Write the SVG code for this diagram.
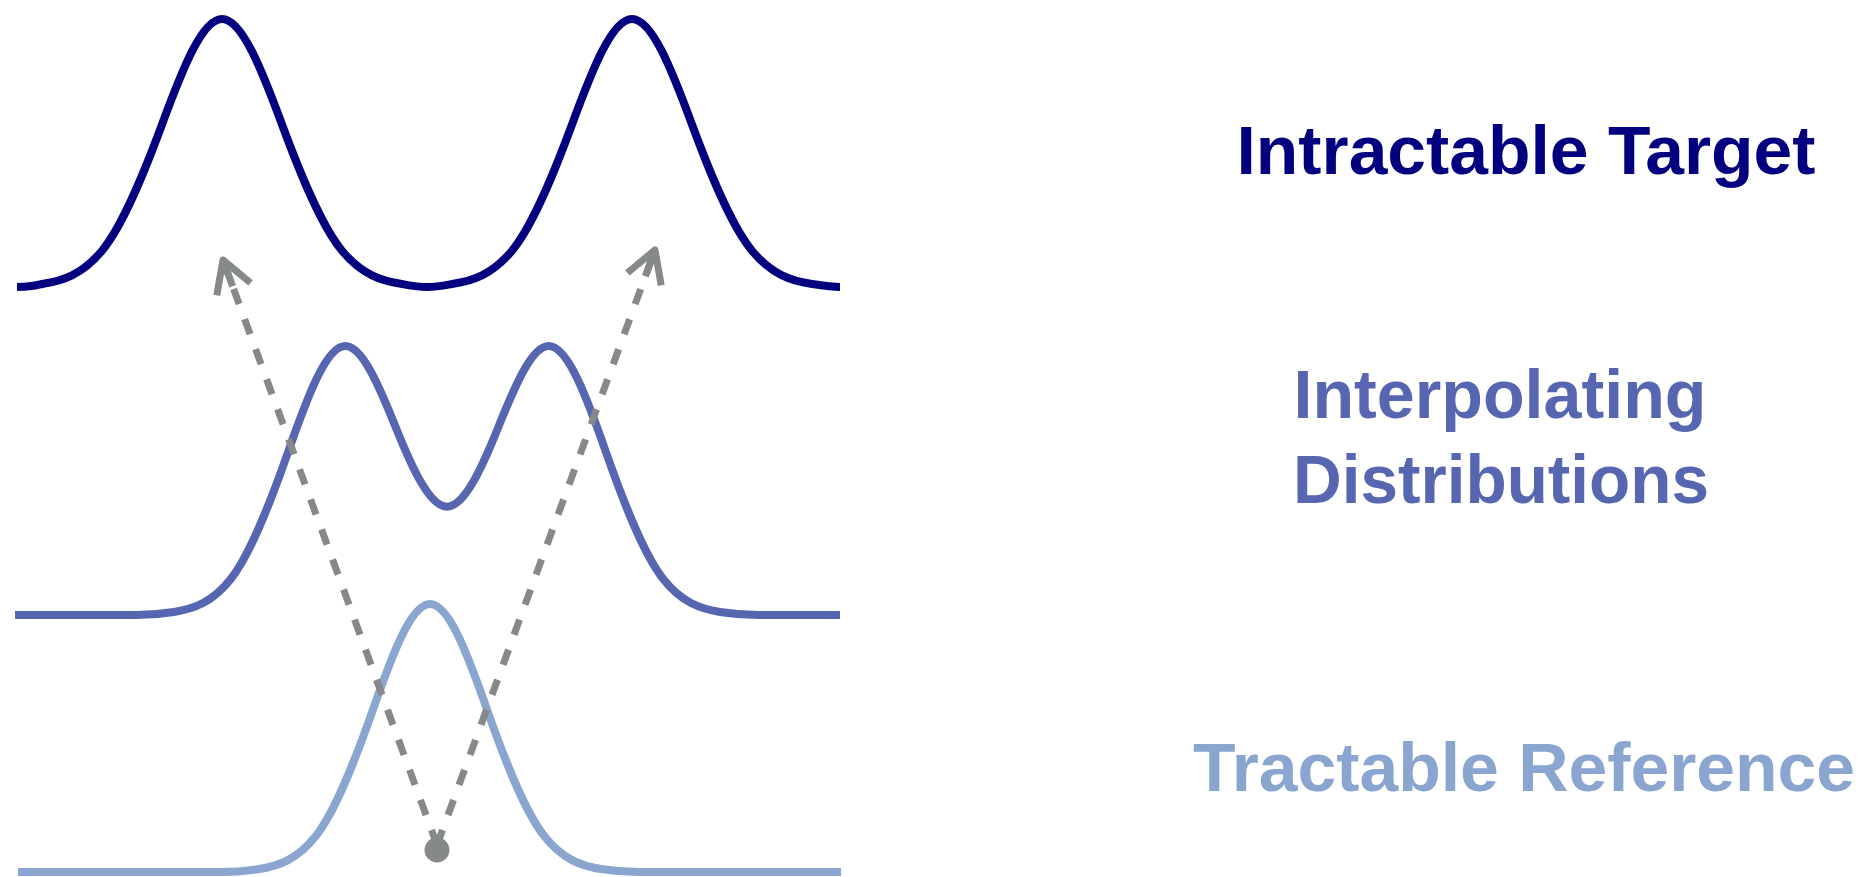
<svg xmlns="http://www.w3.org/2000/svg" width="1865" height="877" viewBox="0 0 1865 877">
<style>
.curve{fill:none;stroke-width:8;stroke-linecap:butt;stroke-linejoin:round}
.target{stroke:#03007F}
.interp{stroke:#5666B0}
.ref{stroke:#8AA5CF}
.lbl{font-family:"Liberation Sans",Arial,Helvetica,sans-serif;font-weight:bold;font-size:68px;text-anchor:middle}
.conn{fill:none;stroke:#868989;stroke-width:7;stroke-dasharray:16 16}
</style>
<defs>
<marker id="ah" markerUnits="userSpaceOnUse" orient="auto" overflow="visible" markerWidth="1" markerHeight="1" refX="0" refY="0">
<path d="M-31,-18 L0,0 L-31,18 M0,0 L-28,0" fill="none" stroke="#868989" stroke-width="7" stroke-linejoin="round"/>
</marker>
</defs>
<rect width="1865" height="877" fill="#ffffff"/>
<g id="target">
<path class="curve target" d="M17,287 C32,287 36,285.5 42,284 C62,281.1 82,274.9 102,250.7 C122,226.6 142,178.6 162,124.5 C182,70.3 202,19 222,19 C242,19 262,70.3 282,124.5 C302,178.6 322,226.6 342,250.7 C362,274.9 382,281.1 402,284 C412,285.8 418,287 427,287 C436,287 442,285.8 452,284 C472,281.1 492,274.9 512,250.7 C532,226.6 552,178.6 572,124.5 C592,70.3 612,19 632,19 C652,19 672,70.3 692,124.5 C712,178.6 732,226.6 752,250.7 C772,274.9 792,281.1 812,284 C824,285.8 832,287 840,287"/>
<text class="lbl" x="1526" y="174" fill="#03007F" textLength="579" lengthAdjust="spacingAndGlyphs">Intractable Target</text>
</g>
<g id="interpolating">
<path class="curve interp" d="M15,615 L136,615 C146,615 155,615 174,612 C193,609 212,602.9 231,578.7 C250,554.5 269,506.4 288,452.2 C307,397.9 326,346.6 345,346.1 C362,345.6 379,385.7 396,427.9 C413,470 430,506.7 447,506.7 C464,506.7 481,470 498,427.9 C515,385.7 532,345.6 549,346.1 C568,346.6 587,397.9 606,452.2 C625,506.4 644,554.5 663,578.7 C682,602.9 701,609 720,612 C739,615 748,615 758,615 L840,615"/>
<text class="lbl" x="1500" y="418" fill="#5666B0" textLength="413" lengthAdjust="spacingAndGlyphs">Interpolating</text>
<text class="lbl" x="1501" y="503" fill="#5666B0" textLength="416" lengthAdjust="spacingAndGlyphs">Distributions</text>
</g>
<g id="reference">
<path class="curve ref" d="M18,872 L221,872 C231,872 240,872 259,869 C278,866.1 297,859.9 316,835.7 C335,811.6 354,763.6 373,709.5 C392,655.3 411,604 430,604 C449,604 468,655.3 487,709.5 C506,763.6 525,811.6 544,835.7 C563,859.9 582,866.1 601,869 C620,872 629,872 639,872 L841,872"/>
<text class="lbl" x="1524" y="791" fill="#8AA5CF" textLength="662" lengthAdjust="spacingAndGlyphs">Tractable Reference</text>
</g>
<g id="connectors">
<line class="conn" x1="437" y1="845" x2="223" y2="260" marker-end="url(#ah)"/>
<line class="conn" x1="437" y1="845" x2="655" y2="250" marker-end="url(#ah)"/>
<circle cx="437" cy="850" r="12.5" fill="#868989"/>
</g>
</svg>
